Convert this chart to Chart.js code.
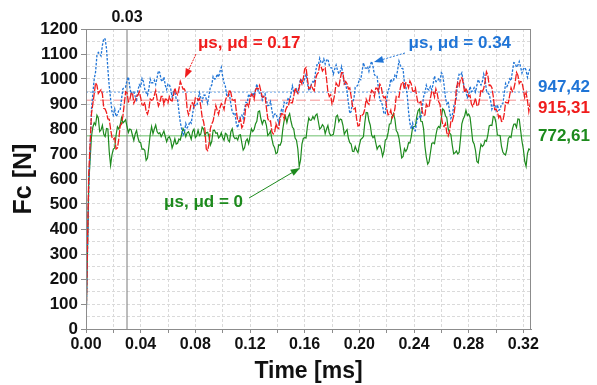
<!DOCTYPE html>
<html>
<head>
<meta charset="utf-8">
<script src="https://cdn.jsdelivr.net/npm/chart.js@4.4.1/dist/chart.umd.min.js"></script>
<style>
  html, body { margin: 0; padding: 0; background: #fff; }
  canvas { display: block; }
</style>
</head>
<body>
<canvas id="chart" width="597" height="385"></canvas>
<script>
// contact force traces, sampled every 0.001 ms
const timeStepMs = 0.001;
const timeMaxMs = 0.3256;

const forceHigh = [ // μs, μd = 0.34
  0, 280, 560, 720, 880, 940, 1000, 1028, 1095, 1106, 1100, 1092, 1135, 1162, 1160, 1122, 1040, 971, 920, 870,
  855, 880, 850, 858, 875, 876, 920, 961, 965, 968, 995, 1008, 970, 940, 950, 948, 930, 917, 955, 977,
  970, 1002, 990, 959, 945, 935, 960, 1000, 985, 985, 995, 978, 1005, 1033, 1025, 996, 990, 1008, 975, 958,
  980, 978, 960, 929, 950, 949, 920, 917, 870, 826, 800, 775, 785, 822, 805, 813, 830, 823, 860, 896,
  895, 893, 915, 945, 925, 910, 935, 936, 920, 902, 935, 969, 975, 1010, 1000, 1001, 1020, 1007, 1030, 1047,
  1010, 985, 970, 931, 936, 936, 900, 868, 860, 865, 820, 805, 830, 851, 856, 842, 880, 907, 905, 940,
  930, 929, 945, 933, 956, 980, 950, 943, 945, 916, 930, 941, 915, 893, 895, 910, 875, 848, 860, 861,
  845, 824, 855, 877, 870, 907, 900, 904, 925, 915, 940, 972, 950, 950, 960, 946, 975, 1001, 990, 983,
  1000, 1018, 985, 953, 960, 983, 990, 984, 1030, 1057, 1056, 1083, 1065, 1064, 1080, 1060, 1075, 1080, 1055, 1045,
  1044, 1020, 1040, 1056, 1035, 1021, 1030, 1050, 1020, 980, 980, 951, 905, 862, 870, 909, 920, 967, 970, 976,
  1000, 997, 1030, 1065, 1045, 1043, 1050, 1031, 1056, 1071, 1050, 1018, 1010, 1010, 960, 915, 910, 893, 860, 862,
  915, 954, 965, 1000, 990, 994, 1015, 1007, 1035, 1072, 1055, 1043, 1040, 983, 970, 938, 870, 823, 800, 823,
  795, 793, 830, 848, 850, 842, 885, 929, 945, 975, 960, 956, 970, 957, 980, 1012, 990, 990, 1000, 991,
  1025, 1018, 975, 926, 900, 910, 870, 843, 856, 889, 905, 924, 995, 1019, 1015, 1025, 990, 961, 950, 925,
  935, 970, 950, 953, 965, 948, 975, 998, 985, 976, 990, 1020, 1000, 953, 945, 938, 915, 879, 895, 899,
  875, 897, 875, 879, 900, 902, 940, 982, 970, 980, 1000, 993, 1030, 1065, 1063, 1047, 1055, 1070, 1048, 1024,
  1040, 1046, 1035, 1007, 1030, 1042, 1025
];

const forceMid = [ // μs, μd = 0.17
  0, 310, 620, 740, 860, 900, 940, 984, 975, 942, 950, 957, 940, 883, 880, 866, 840, 839, 800, 767,
  760, 764, 720, 724, 760, 812, 820, 852, 900, 949, 945, 909, 915, 942, 945, 903, 915, 931, 935, 949,
  925, 897, 895, 907, 870, 859, 880, 920, 915, 917, 935, 954, 920, 892, 905, 930, 930, 898, 920, 919,
  905, 929, 915, 912, 935, 964, 945, 937, 960, 990, 975, 960, 960, 946, 880, 857, 875, 902, 905, 888,
  925, 926, 915, 922, 890, 847, 830, 799, 720, 714, 740, 802, 820, 832, 860, 894, 875, 859, 885, 902,
  895, 878, 915, 929, 930, 957, 945, 917, 915, 917, 870, 834, 830, 840, 805, 815, 840, 896, 900, 889,
  920, 940, 935, 918, 955, 964, 960, 974, 950, 927, 930, 932, 885, 842, 830, 832, 790, 780, 785, 821,
  805, 802, 840, 862, 860, 841, 875, 889, 890, 917, 905, 905, 930, 964, 950, 942, 965, 995, 980, 1002,
  1040, 1046, 1000, 962, 965, 975, 960, 953, 1000, 1019, 1025, 1057, 1050, 1032, 1040, 1044, 1000, 949, 930, 937,
  900, 912, 940, 984, 975, 967, 1000, 1025, 1025, 981, 990, 981, 960, 964, 930, 892, 880, 884, 840, 812,
  815, 857, 855, 860, 880, 919, 905, 899, 935, 955, 950, 930, 963, 963, 950, 979, 970, 935, 925, 929,
  885, 857, 860, 875, 845, 855, 880, 931, 930, 927, 965, 987, 985, 958, 985, 981, 965, 992, 980, 952,
  950, 964, 930, 902, 905, 910, 870, 855, 856, 899, 890, 887, 925, 950, 950, 928, 960, 941, 910, 899,
  850, 817, 810, 822, 785, 772, 790, 832, 830, 852, 890, 964, 985, 972, 1000, 1005, 985, 946, 960, 951,
  930, 934, 900, 890, 905, 924, 895, 892, 920, 957, 950, 962, 990, 1029, 1015, 974, 975, 965, 930, 878,
  880, 869, 845, 857, 830, 832, 860, 907, 905, 904, 935, 965, 950, 960, 985, 1026, 1015, 982, 990, 987,
  960, 926, 945, 914, 870, 902, 895
];

const forceLow = [ // μs, μd = 0
  0, 290, 580, 675, 770, 807, 825, 816, 855, 844, 790, 796, 815, 779, 770, 802, 800, 709, 655, 697,
  720, 724, 775, 809, 800, 816, 845, 824, 830, 837, 810, 786, 800, 797, 775, 754, 780, 794, 765, 748,
  745, 719, 720, 715, 675, 684, 730, 779, 810, 781, 800, 816, 790, 781, 785, 769, 780, 792, 770, 749,
  765, 769, 755, 724, 740, 761, 740, 743, 760, 756, 780, 802, 790, 769, 785, 789, 775, 759, 790, 799,
  765, 773, 795, 774, 780, 807, 800, 774, 785, 787, 770, 736, 750, 794, 795, 783, 785, 764, 770, 785,
  765, 755, 783, 779, 756, 749, 789, 801, 770, 761, 765, 756, 775, 777, 745, 716, 725, 752, 760, 741,
  770, 801, 790, 798, 820, 831, 869, 872, 840, 819, 835, 834, 815, 774, 780, 791, 760, 736, 725, 701,
  705, 737, 735, 749, 800, 834, 850, 826, 850, 861, 830, 808, 800, 764, 755, 720, 650, 676, 740, 762,
  765, 764, 810, 844, 835, 836, 850, 839, 855, 860, 830, 799, 805, 817, 810, 781, 800, 814, 785, 774,
  776, 779, 810, 850, 855, 829, 840, 837, 815, 779, 790, 798, 763, 745, 740, 711, 710, 730, 715, 706,
  735, 758, 763, 770, 825, 866, 865, 833, 815, 776, 765, 772, 745, 719, 730, 734, 720, 691, 710, 756,
  760, 783, 820, 821, 850, 862, 840, 794, 785, 764, 725, 684, 690, 721, 710, 721, 745, 744, 770, 807,
  810, 811, 850, 874, 880, 831, 830, 801, 730, 688, 660, 669, 705, 742, 745, 741, 775, 802, 810, 804,
  845, 881, 875, 853, 845, 801, 785, 777, 735, 701, 705, 712, 700, 706, 760, 821, 840, 851, 875, 854,
  860, 847, 800, 751, 740, 714, 670, 664, 705, 739, 730, 736, 755, 751, 775, 812, 815, 814, 850, 847,
  825, 776, 775, 774, 730, 708, 700, 696, 720, 762, 770, 766, 800, 819, 820, 806, 840, 839, 795, 751,
  720, 671, 650, 702, 720, 716, 750
];

const meanHigh = 947.42;
const meanMid = 915.31;
const meanLow = 772.61;
const markerTimeMs = 0.03;

const blue = "#1f74d6";
const red = "#f01c1c";
const green = "#1d8a1d";
const font = "Arial, 'Liberation Sans', sans-serif";

function toPoints(values) {
  return values.map((v, i) => ({ x: i * timeStepMs, y: v }));
}

function flatLine(value) {
  return [{ x: 0, y: value }, { x: timeMaxMs, y: value }];
}

// frame around the plot plus the text notes and arrows
const notesPlugin = {
  id: "notes",
  afterDraw(chart) {
    const { ctx, chartArea: a, scales: { x, y } } = chart;
    ctx.save();
    ctx.strokeStyle = "#8c8c8c";
    ctx.lineWidth = 1;
    ctx.strokeRect(a.left + 0.5, a.top + 0.5, a.right - a.left - 1, a.bottom - a.top);

    ctx.font = `bold 16px ${font}`;
    ctx.fillStyle = "#111";
    ctx.textAlign = "center";
    ctx.textBaseline = "middle";
    ctx.fillText("0.03", x.getPixelForValue(markerTimeMs), a.top - 11);

    ctx.font = `bold 17px ${font}`;
    ctx.textAlign = "left";
    ctx.fillStyle = blue;
    ctx.fillText("947,42", a.right + 7, 87);
    ctx.fillStyle = red;
    ctx.fillText("915,31", a.right + 7, 108);
    ctx.fillStyle = green;
    ctx.fillText("772,61", a.right + 7, 136);

    ctx.textAlign = "center";
    const notes = [
      { text: "μs, μd = 0.17", color: red, at: [0.1194, 1144], from: [0.0805, 1100], to: [0.0724, 1004], dash: [2, 1] },
      { text: "μs, μd = 0.34", color: blue, at: [0.2735, 1143], from: [0.2334, 1104], to: [0.2107, 1068], dash: [2, 1.5] },
      { text: "μs, μd = 0", color: green, at: [0.086, 505], from: [0.1193, 524], to: [0.1566, 644], dash: [] },
    ];
    notes.forEach((n) => {
      ctx.fillStyle = n.color;
      ctx.strokeStyle = n.color;
      ctx.fillText(n.text, x.getPixelForValue(n.at[0]), y.getPixelForValue(n.at[1]));
      const x0 = x.getPixelForValue(n.from[0]);
      const y0 = y.getPixelForValue(n.from[1]);
      const x1 = x.getPixelForValue(n.to[0]);
      const y1 = y.getPixelForValue(n.to[1]);
      const ang = Math.atan2(y1 - y0, x1 - x0);
      const head = 10;
      ctx.setLineDash(n.dash);
      ctx.lineWidth = 1;
      ctx.beginPath();
      ctx.moveTo(x0, y0);
      ctx.lineTo(x1 - Math.cos(ang) * head * 0.8, y1 - Math.sin(ang) * head * 0.8);
      ctx.stroke();
      ctx.setLineDash([]);
      ctx.beginPath();
      ctx.moveTo(x1, y1);
      ctx.lineTo(x1 - head * Math.cos(ang - 0.35), y1 - head * Math.sin(ang - 0.35));
      ctx.lineTo(x1 - head * Math.cos(ang + 0.35), y1 - head * Math.sin(ang + 0.35));
      ctx.closePath();
      ctx.fill();
    });
    ctx.restore();
  },
};

new Chart(document.getElementById("chart"), {
  type: "line",
  data: {
    datasets: [
      { data: flatLine(meanLow), borderColor: "#6cbf6c", borderWidth: 1, order: 6 },
      { data: flatLine(meanMid), borderColor: "#f59090", borderWidth: 1, borderDash: [10, 4], order: 6 },
      { data: flatLine(meanHigh), borderColor: "#6fa8ea", borderWidth: 1, borderDash: [2, 2], order: 6 },
      { data: [{ x: markerTimeMs, y: 0 }, { x: markerTimeMs, y: 1200 }], borderColor: "#7a7a7a", borderWidth: 1, order: 5 },
      { data: toPoints(forceLow), borderColor: green, borderWidth: 1.2, order: 3 },
      { data: toPoints(forceHigh), borderColor: blue, borderWidth: 1.3, borderDash: [2.5, 1.5], order: 2 },
      { data: toPoints(forceMid), borderColor: red, borderWidth: 1.3, borderDash: [7, 1.5], order: 1 },
    ],
  },
  options: {
    responsive: false,
    animation: false,
    devicePixelRatio: 1,
    elements: { point: { radius: 0 }, line: { tension: 0 } },
    layout: { padding: { left: 0, top: 29, right: 66, bottom: 0 } },
    plugins: { legend: { display: false }, tooltip: { enabled: false } },
    scales: {
      x: {
        type: "linear",
        min: 0,
        max: timeMaxMs,
        afterFit: (s) => { s.height = 56; },
        ticks: {
          stepSize: 0.02,
          includeBounds: false,
          autoSkip: false,
          maxRotation: 0,
          padding: 2,
          color: "#111",
          font: { family: font, size: 16, weight: "bold" },
          callback: (v) => (Math.round(v * 100) % 4 === 0 ? v.toFixed(2) : ""),
        },
        grid: { color: "#dadada", tickLength: 4, tickColor: "#8c8c8c" },
        border: { color: "#8c8c8c", dash: [3, 2] },
        title: {
          display: true,
          text: "Time [ms]",
          color: "#111",
          font: { family: font, size: 23, weight: "bold" },
          padding: { top: 0, bottom: 0 },
        },
      },
      y: {
        min: 0,
        max: 1200,
        afterFit: (s) => { s.width = 86; },
        ticks: {
          stepSize: 50,
          autoSkip: false,
          padding: 3,
          color: "#111",
          font: { family: font, size: 17, weight: "bold" },
          callback: (v) => (v % 100 === 0 ? v : ""),
        },
        grid: {
          color: "#dadada",
          tickLength: 5,
          tickColor: (c) => (c.tick && c.tick.value % 100 === 0 ? "#8c8c8c" : "rgba(0,0,0,0)"),
        },
        border: { color: "#8c8c8c", dash: [3, 2] },
        title: {
          display: true,
          text: "Fc [N]",
          color: "#111",
          font: { family: font, size: 25, weight: "bold" },
          padding: { top: 9, bottom: 0 },
        },
      },
    },
  },
  plugins: [notesPlugin],
});
</script>
</body>
</html>
